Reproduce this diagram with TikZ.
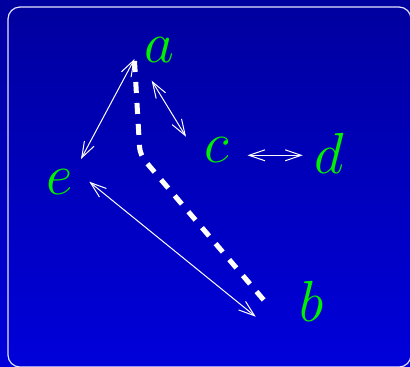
\documentclass[tikz,border=0pt]{standalone}
\usetikzlibrary{arrows.meta}
\definecolor{bgtop}{RGB}{0,0,158}
\definecolor{bgbot}{RGB}{0,0,218}
\definecolor{lblgreen}{RGB}{0,240,0}
\begin{document}
\begin{tikzpicture}[x=0.5pt,y=-0.5pt,
  lbl/.style={text=lblgreen,font=\Huge,scale=1.165,inner sep=0pt},
  arr/.style={white,line width=0.5pt,
    {Straight Barb[length=8pt,width=5.5pt]}-{Straight Barb[length=8pt,width=5.5pt]}}]
  \useasboundingbox (0,0) rectangle (410,366);
  \shade[top color=bgtop,bottom color=bgbot] (0,0) rectangle (410,366);
  \draw[white!90!blue,line width=0.6pt,rounded corners=6pt] (8,7) rectangle (411,367);
  % labels
  \node[lbl] (a) at (159.5,50) {$a$};
  \node[lbl] (e) at (60,182) {$e$};
  \node[lbl] (c) at (217,150.5) {$c$};
  \node[lbl] (d) at (329.5,153) {$d$};
  \node[lbl] (b) at (311.5,301.5) {$b$};
  \coordinate (bend) at (140,155);
  % arrows
  \draw[arr] ([shift={(-25,9)}]a.center) -- ([shift={(21,-23)}]e.center);
  \draw[arr] ([shift={(-7.8,30.7)}]a.center) -- ([shift={(-31,-13.8)}]c.center);
  \draw[arr] ([shift={(30.5,4.8)}]c.center) -- ([shift={(-26.8,2.3)}]d.center);
  \draw[arr] ([shift={(29.3,-0.3)}]e.center) -- ([shift={(-55.8,15.2)}]b.center);
  \draw[white,line width=2.5pt,dash pattern=on 5.5pt off 5pt,rounded corners=4pt]
    ([shift={(-25,11)}]a.center) -- (bend) -- ([shift={(-44.8,2)}]b.center);
\end{tikzpicture}
\end{document}
